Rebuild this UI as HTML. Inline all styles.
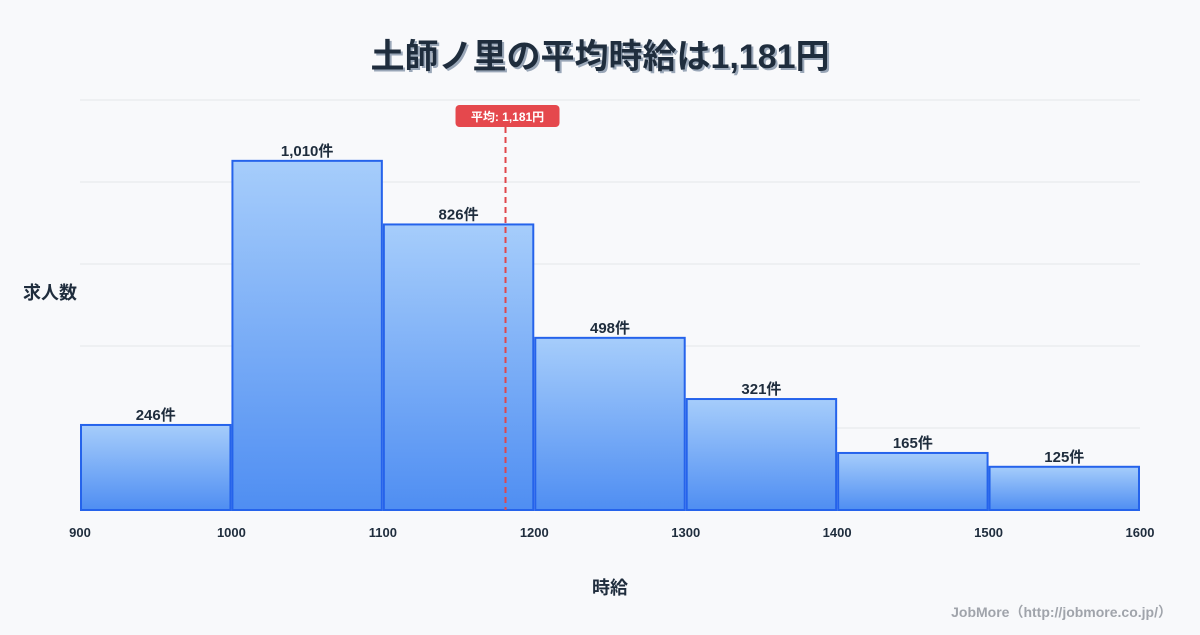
<!DOCTYPE html>
<html><head><meta charset="utf-8"><style>
body{margin:0;background:#f8f9fb;font-family:"Liberation Sans","Noto Sans CJK JP",sans-serif;}
svg text{font-family:"Liberation Sans","Noto Sans CJK JP",sans-serif;}
</style></head><body>
<svg id="c" width="1200" height="630" xmlns="http://www.w3.org/2000/svg">
<defs><linearGradient id="g" x1="0" y1="0" x2="0" y2="1"><stop offset="0" stop-color="#a6cdfb"/><stop offset="1" stop-color="#4f8ef2"/></linearGradient></defs>
<rect width="1200" height="630" fill="#f8f9fb"/>
<text x="600" y="68" text-anchor="middle" font-size="34" font-weight="bold" fill="#9aa7b8" dx="2" dy="2">土師ノ里の平均時給は1,181円</text>
<text x="600" y="68" text-anchor="middle" font-size="34" font-weight="bold" fill="#1f2d3d">土師ノ里の平均時給は1,181円</text>
<text x="50" y="299" text-anchor="middle" font-size="18" font-weight="bold" fill="#1f2d3d">求人数</text>
<text x="610" y="594" text-anchor="middle" font-size="18" font-weight="bold" fill="#1f2d3d">時給</text>
<text x="1172" y="617" text-anchor="end" font-size="14" font-weight="bold" fill="#a0a4ab">JobMore（http://jobmore.co.jp/）</text>
<g id="grid"></g><g id="bars"></g><g id="xt"></g><g id="mean"></g>
</svg>
<script>
const binStarts=[900,1000,1100,1200,1300,1400,1500];
const counts=[246,1010,826,498,321,165,125];
const xTicks=[900,1000,1100,1200,1300,1400,1500,1600];
const meanValue=1181;
const meanLabel="平均: 1,181円";
const NS="http://www.w3.org/2000/svg";
const X0=80,X1=1140,Y0=510,Y1=100,xmin=900,xmax=1600,ymax=1186;
const xs=v=>X0+(v-xmin)/(xmax-xmin)*(X1-X0);
const ys=v=>Y0-v/ymax*(Y0-Y1);
function mk(t,a,p){const e=document.createElementNS(NS,t);for(const k in a)e.setAttribute(k,a[k]);p.appendChild(e);return e;}
const grid=document.getElementById('grid');
for(let i=0;i<=5;i++){const y=Y1+i*(Y0-Y1)/5;const l=mk('line',{x1:X0,x2:X1,y1:y,y2:y,stroke:'#e3e6ea','stroke-width':1},grid);

}
const bars=document.getElementById('bars');
binStarts.forEach((b,i)=>{const x=xs(b)+1,w=xs(b+100)-xs(b)-2,y=ys(counts[i]);
const r=mk('rect',{x:x,y:y,width:w,height:Y0-y,fill:'url(#g)',stroke:'#2563eb','stroke-width':2},bars);


const t=mk('text',{x:x+w/2,y:y-5,'text-anchor':'middle','font-size':15,'font-weight':'bold',fill:'#1f2d3d'},bars);
t.textContent=counts[i].toLocaleString('en-US')+'件';

});
const xt=document.getElementById('xt');
xTicks.forEach(v=>{const t=mk('text',{x:xs(v),y:537,'text-anchor':'middle','font-size':13,'font-weight':'bold',fill:'#1f2d3d'},xt);t.textContent=v;

});
const m=document.getElementById('mean');const mx=xs(meanValue);
const ml=mk('line',{x1:mx,x2:mx,y1:127,y2:Y0,stroke:'#e0474c','stroke-width':2,'stroke-dasharray':'6,4'},m);


const mb=mk('rect',{x:mx-50,y:105,width:104,height:22,rx:4,fill:'#e5484d'},m);


const mt=mk('text',{x:mx+2,y:121,'text-anchor':'middle','font-size':12,'font-weight':'bold',fill:'#fff'},m);mt.textContent=meanLabel;


</script>
</body></html>
